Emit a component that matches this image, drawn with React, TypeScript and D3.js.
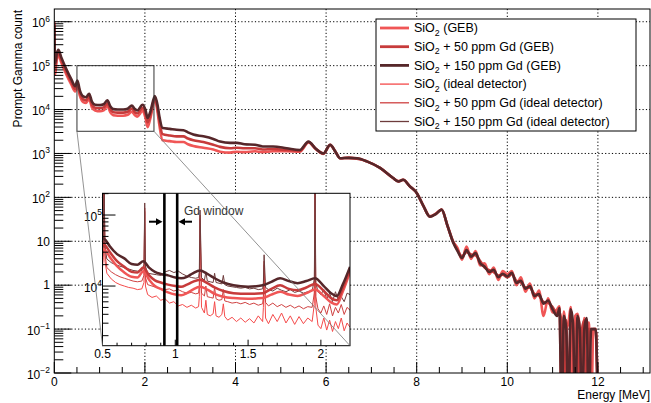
import React from 'react';
import * as d3 from 'd3';

const W = 651;
const H = 403;
const FONT = '"Liberation Sans", Arial, Helvetica, sans-serif';

// main spectrum: energy [MeV], counts stored as log10 (null = empty bin)
const mainEnergy = [
  0.00, 0.02, 0.05, 0.09, 0.15, 0.27, 0.38, 0.46, 0.51, 0.56,
  0.64, 0.70, 0.77, 0.83, 0.90, 1.01, 1.09, 1.17, 1.24, 1.30,
  1.40, 1.52, 1.62, 1.71, 1.78, 1.83, 1.95, 2.01, 2.06, 2.12,
  2.22, 2.28, 2.32, 2.39, 2.55, 2.70, 2.85, 2.95, 3.07, 3.29,
  3.51, 3.66, 3.88, 4.03, 4.20, 4.43, 4.60, 4.83, 5.13, 5.42,
  5.61, 5.78, 5.94, 6.09, 6.20, 6.31, 6.50, 6.68, 6.90, 7.19,
  7.48, 7.60, 7.70, 7.85, 8.00, 8.15, 8.29, 8.42, 8.55, 8.68,
  8.81, 8.90, 9.00, 9.10, 9.20, 9.30, 9.40, 9.50, 9.60, 9.70,
  9.80, 9.90, 10.0, 10.1, 10.2, 10.3, 10.4, 10.5, 10.6, 10.7,
  10.8, 10.9, 11.0, 11.1, 11.15, 11.2, 11.25, 11.3, 11.35, 11.4,
  11.45, 11.5, 11.55, 11.6, 11.65, 11.7, 11.75, 11.8, 11.85, 11.9,
  11.95, 12.0,
];
const gebSiO2 = [
  6.00, 4.80, 5.10, 5.24, 5.08, 4.79, 4.56, 4.41, 4.55, 4.33,
  4.17, 4.15, 4.24, 4.05, 3.98, 3.96, 3.98, 4.08, 3.93, 3.87,
  3.86, 3.86, 3.88, 3.95, 3.87, 3.84, 3.97, 3.82, 3.60, 3.80,
  4.23, 3.94, 3.64, 3.30, 3.28, 3.26, 3.26, 3.21, 3.17, 3.13,
  3.09, 3.04, 3.02, 3.04, 3.03, 3.05, 3.03, 3.05, 3.05, 3.04,
  3.25, 3.09, 2.99, 3.20, 3.05, 2.89, 2.90, 2.89, 2.82, 2.67,
  2.44, 2.37, 2.40, 2.25, 2.10, 1.80, 1.56, 1.63, 1.72, 1.34,
  0.98, 0.85, 0.58, 0.88, 0.60, 0.78, 0.45, 0.50, 0.25, 0.40,
  0.12, 0.32, 0.25, 0.32, 0.00, 0.18, -0.15, 0.04, -0.30, -0.12,
  -0.70, -0.30, -0.62, -0.55, -0.48, null, -0.60, -1.0, -0.85, -0.50,
  null, -0.70, -0.65, -1.0, null, -0.75, -1.0, -0.85, null, -1.0,
  -1.0, null,
];
const geb50 = [
  5.95, 4.95, 5.18, 5.30, 5.14, 4.85, 4.62, 4.47, 4.61, 4.39,
  4.23, 4.21, 4.30, 4.11, 4.04, 4.03, 4.05, 4.14, 4.00, 3.94,
  3.93, 3.93, 3.95, 4.02, 3.94, 3.91, 4.04, 3.91, 3.71, 3.87,
  4.27, 4.02, 3.74, 3.44, 3.41, 3.39, 3.39, 3.34, 3.30, 3.26,
  3.20, 3.15, 3.12, 3.13, 3.12, 3.12, 3.09, 3.10, 3.08, 3.06,
  3.26, 3.10, 3.00, 3.19, 3.05, 2.89, 2.90, 2.88, 2.82, 2.67,
  2.44, 2.36, 2.40, 2.25, 2.10, 1.80, 1.57, 1.62, 1.72, 1.36,
  0.97, 0.80, 0.66, 0.75, 0.70, 0.68, 0.55, 0.40, 0.34, 0.30,
  0.22, 0.24, 0.18, 0.25, 0.10, 0.06, -0.05, -0.06, -0.20, -0.24,
  -0.38, -0.40, -0.50, -0.65, -0.60, -0.90, null, -0.80, null, -0.70,
  -1.0, null, -0.75, null, -1.0, -0.80, null, -1.0, -1.0, -1.0,
  -1.0, null,
];
const geb150 = [
  5.90, 5.05, 5.25, 5.36, 5.20, 4.91, 4.68, 4.53, 4.66, 4.45,
  4.30, 4.28, 4.36, 4.18, 4.11, 4.10, 4.12, 4.21, 4.07, 4.01,
  4.00, 4.00, 4.02, 4.09, 4.01, 3.98, 4.11, 4.00, 3.81, 3.95,
  4.31, 4.10, 3.84, 3.58, 3.56, 3.54, 3.53, 3.48, 3.43, 3.39,
  3.33, 3.27, 3.24, 3.24, 3.21, 3.20, 3.16, 3.16, 3.12, 3.08,
  3.27, 3.10, 3.00, 3.20, 3.05, 2.89, 2.90, 2.89, 2.82, 2.67,
  2.44, 2.36, 2.40, 2.25, 2.10, 1.80, 1.56, 1.62, 1.72, 1.35,
  0.96, 0.78, 0.62, 0.80, 0.65, 0.73, 0.50, 0.42, 0.30, 0.35,
  0.18, 0.26, 0.20, 0.28, 0.05, 0.10, -0.08, -0.02, -0.25, -0.20,
  -0.42, -0.35, -0.55, -0.70, -0.52, null, -0.70, -1.0, null, -0.55,
  -0.85, null, -0.70, -1.0, null, -1.0, -0.75, null, -1.0, -1.0,
  -1.0, null,
];

// inset, GEB (smeared) spectra
const insetEnergy = [
  0.50, 0.52, 0.55, 0.60, 0.65, 0.70, 0.74, 0.78, 0.82, 0.86,
  0.90, 0.95, 1.00, 1.04, 1.08, 1.12, 1.17, 1.22, 1.27, 1.33,
  1.40, 1.50, 1.60, 1.66, 1.72, 1.78, 1.84, 1.90, 1.96, 2.02,
  2.07, 2.11, 2.15, 2.20,
];
const insetGebSiO2 = [
  4.53, 4.50, 4.41, 4.28, 4.19, 4.13, 4.12, 4.21, 4.09, 4.00,
  3.96, 3.91, 3.88, 3.87, 3.90, 3.95, 3.99, 3.95, 3.89, 3.85,
  3.83, 3.82, 3.83, 3.88, 3.92, 3.88, 3.86, 3.90, 3.95, 3.86,
  3.77, 3.74, 3.92, 4.20,
];
const insetGeb50 = [
  4.60, 4.57, 4.48, 4.35, 4.27, 4.20, 4.19, 4.26, 4.15, 4.08,
  4.05, 4.02, 4.00, 3.99, 4.02, 4.06, 4.09, 4.04, 3.98, 3.93,
  3.90, 3.89, 3.90, 3.96, 4.01, 3.96, 3.94, 3.98, 4.03, 3.93,
  3.83, 3.80, 3.97, 4.24,
];
const insetGeb150 = [
  4.68, 4.65, 4.56, 4.45, 4.39, 4.31, 4.30, 4.35, 4.26, 4.20,
  4.17, 4.15, 4.12, 4.11, 4.13, 4.18, 4.22, 4.17, 4.11, 4.05,
  4.01, 3.99, 4.01, 4.06, 4.11, 4.07, 4.04, 4.07, 4.11, 4.00,
  3.90, 3.86, 4.02, 4.27,
];

// inset, ideal detector spectra (sharp lines)
const idealEnergy = [
  0.50, 0.505, 0.511, 0.517, 0.53, 0.56, 0.59, 0.62, 0.65, 0.68,
  0.71, 0.74, 0.77, 0.785, 0.79, 0.795, 0.81, 0.84, 0.87, 0.90,
  0.93, 0.96, 0.99, 1.02, 1.05, 1.08, 1.11, 1.14, 1.16, 1.165,
  1.17, 1.18, 1.20, 1.21, 1.22, 1.24, 1.26, 1.27, 1.28, 1.30,
  1.32, 1.33, 1.34, 1.36, 1.39, 1.42, 1.45, 1.48, 1.51, 1.54,
  1.57, 1.60, 1.605, 1.61, 1.62, 1.64, 1.67, 1.70, 1.73, 1.76,
  1.79, 1.82, 1.85, 1.88, 1.91, 1.94, 1.955, 1.96, 1.965, 1.98,
  2.00, 2.02, 2.04, 2.06, 2.08, 2.10, 2.12, 2.14, 2.16, 2.18,
  2.20,
];
const idealSiO2 = [
  4.25, 4.40, 5.40, 4.35, 4.18, 4.10, 4.05, 4.02, 4.00, 3.98,
  3.97, 3.95, 3.96, 4.05, 5.05, 4.00, 3.88, 3.84, 3.86, 3.80,
  3.82, 3.76, 3.78, 3.72, 3.74, 3.70, 3.73, 3.69, 3.71, 3.85,
  4.95, 3.70, 3.62, 3.80, 3.60, 3.58, 3.61, 3.78, 3.58, 3.56,
  3.60, 3.75, 3.57, 3.52, 3.56, 3.50, 3.55, 3.49, 3.54, 3.48,
  3.58, 3.50, 3.70, 4.30, 3.55, 3.47, 3.60, 3.50, 3.62, 3.48,
  3.58, 3.46, 3.57, 3.47, 3.55, 3.50, 3.75, 5.35, 3.70, 3.45,
  3.40, 3.55, 3.38, 3.52, 3.36, 3.50, 3.40, 3.55, 3.37, 3.48,
  3.42,
];
const ideal50 = [
  4.32, 4.50, 5.45, 4.45, 4.26, 4.20, 4.16, 4.13, 4.11, 4.09,
  4.07, 4.06, 4.07, 4.15, 5.10, 4.12, 4.02, 4.00, 3.98, 3.96,
  3.95, 3.96, 3.93, 3.95, 3.92, 3.90, 3.91, 3.89, 3.90, 4.00,
  5.00, 3.90, 3.86, 4.00, 3.85, 3.84, 3.83, 3.98, 3.82, 3.80,
  3.81, 3.95, 3.79, 3.78, 3.76, 3.77, 3.75, 3.77, 3.74, 3.76,
  3.73, 3.75, 3.85, 4.35, 3.77, 3.72, 3.76, 3.71, 3.74, 3.70,
  3.73, 3.69, 3.72, 3.68, 3.71, 3.70, 3.90, 5.40, 3.85, 3.68,
  3.62, 3.72, 3.60, 3.75, 3.58, 3.70, 3.62, 3.74, 3.60, 3.70,
  3.66,
];
const ideal150 = [
  4.42, 4.60, 5.50, 4.55, 4.38, 4.33, 4.30, 4.28, 4.26, 4.24,
  4.22, 4.21, 4.22, 4.30, 5.17, 4.28, 4.18, 4.17, 4.16, 4.15,
  4.20, 4.22, 4.19, 4.21, 4.17, 4.14, 4.12, 4.11, 4.12, 4.20,
  5.07, 4.12, 4.08, 4.20, 4.07, 4.06, 4.05, 4.18, 4.05, 4.04,
  4.03, 4.15, 4.02, 4.00, 3.99, 3.98, 3.97, 3.98, 3.96, 3.97,
  3.95, 3.96, 4.05, 4.44, 3.98, 3.95, 3.93, 3.97, 3.94, 3.92,
  3.95, 3.91, 3.93, 3.90, 3.92, 3.93, 4.10, 5.50, 4.05, 3.92,
  3.88, 3.95, 3.82, 3.90, 3.78, 3.92, 3.80, 3.85, 3.78, 3.90,
  3.88,
];

const gdWindow = [0.925, 1.013];
const zoomEnergy = [0.5, 2.2];
const zoomCounts = [3200, 1e5];

const legendSuffix = [
  ' (GEB)',
  ' + 50 ppm Gd (GEB)',
  ' + 150 ppm Gd (GEB)',
  ' (ideal detector)',
  ' + 50 ppm Gd (ideal detector)',
  ' + 150 ppm Gd (ideal detector)',
];
const xTicks = [0, 2, 4, 6, 8, 10, 12];
const yDecades = [-2, -1, 0, 1, 2, 3, 4, 5, 6];
const insetXTicks = [0.5, 1, 1.5, 2];
const insetDecades = [4, 5];

const styles = [
  { color: '#f05656', width: 2.6 },
  { color: '#c73b3b', width: 2.6 },
  { color: '#56272a', width: 2.6 },
  { color: '#f44a4a', width: 1 },
  { color: '#cf4242', width: 1 },
  { color: '#6e3c3c', width: 1 },
];

const sup = (e: number) => (e < 0 ? '\u2212' + -e : String(e));

export default function App() {
  const x = d3.scaleLinear().domain([0, 13.15]).range([54.3, 650]);
  const y = d3.scaleLog().domain([1e-2, 10 ** 6.29]).range([373, 9]);
  const ix = d3.scaleLinear().domain([0.5, 2.2]).range([102.5, 350]);
  const iy = d3.scaleLog().domain([10 ** 3.16, 10 ** 5.306]).range([345.7, 193.3]);

  const [fx0, fx1] = x.range();
  const [fy1, fy0] = y.range();
  const [ix0, ix1] = ix.range();
  const [iy1, iy0] = iy.range();

  const pts = (es: number[], vs: (number | null)[]) =>
    es.map((e, i) => [e, vs[i] == null ? 1e-3 : 10 ** (vs[i] as number)] as [number, number]);

  const mainLine = d3.line<[number, number]>().x(d => x(d[0])).y(d => y(d[1])).curve(d3.curveMonotoneX);
  const insetSmooth = d3.line<[number, number]>().x(d => ix(d[0])).y(d => iy(d[1])).curve(d3.curveMonotoneX);
  const insetSharp = d3.line<[number, number]>().x(d => ix(d[0])).y(d => iy(d[1]));

  const mainSeries = [gebSiO2, geb50, geb150];
  const insetGeb = [insetGebSiO2, insetGeb50, insetGeb150];
  const insetIdeal = [idealSiO2, ideal50, ideal150];

  const yMinor: number[] = [];
  yDecades.forEach(d => {
    for (let k = 2; k <= 9; k++) {
      const v = k * 10 ** d;
      if (v < y.domain()[1]) yMinor.push(v);
    }
  });
  const xMinor = d3.range(0.5, 13.1, 0.5).filter(v => v % 2 !== 0);

  const iyMinor: number[] = [];
  [3, 4, 5].forEach(d => {
    for (let k = 2; k <= 9; k++) {
      const v = k * 10 ** d;
      if (v > iy.domain()[0] && v < iy.domain()[1]) iyMinor.push(v);
    }
  });
  const ixMinor = d3.range(0.6, 2.2, 0.1).filter(v => Math.abs(v * 2 - Math.round(v * 2)) > 0.01);

  // zoom rectangle on the main plot
  const zx0 = x(zoomEnergy[0]), zx1 = x(zoomEnergy[1]);
  const zy0 = y(zoomCounts[1]), zy1 = y(zoomCounts[0]);

  const legX = 376, legY = 19, legW = 260, legH = 112;
  const rowY = (i: number) => 28 + i * 18.7;

  return (
    <svg width={W} height={H} style={{ position: 'absolute', left: 0, top: 0, background: '#fff' }}
      fontFamily={FONT} fontSize={12}>
      <defs>
        <clipPath id="mainClip"><rect x={fx0} y={fy0} width={fx1 - fx0} height={fy1 - fy0} /></clipPath>
        <clipPath id="insetClip"><rect x={ix0} y={iy0} width={ix1 - ix0} height={iy1 - iy0} /></clipPath>
      </defs>
      <rect x={0} y={0} width={W} height={H} fill="#fff" />

      {/* grid */}
      <g stroke="#000" strokeWidth={1} strokeDasharray="1.2,2.2">
        {xTicks.slice(1).map(t => <line key={'gx' + t} x1={x(t)} x2={x(t)} y1={fy0} y2={fy1} />)}
        {yDecades.slice(1).map(d => <line key={'gy' + d} x1={fx0} x2={fx1} y1={y(10 ** d)} y2={y(10 ** d)} />)}
      </g>

      {/* main spectra */}
      <g clipPath="url(#mainClip)" fill="none" strokeLinejoin="round">
        {mainSeries.map((s, i) => (
          <path key={'m' + i} d={mainLine(pts(mainEnergy, s)) || ''} stroke={styles[i].color}
            strokeWidth={styles[i].width} />
        ))}
      </g>

      {/* zoom box */}
      <rect x={zx0} y={zy0} width={zx1 - zx0} height={zy1 - zy0} fill="none" stroke="#333" strokeWidth={1} />

      {/* frame + ticks */}
      <rect x={fx0} y={fy0} width={fx1 - fx0} height={fy1 - fy0} fill="none" stroke="#000" strokeWidth={1} />
      <g stroke="#000" strokeWidth={1}>
        {yDecades.map(d => <line key={'ty' + d} x1={fx0} x2={fx0 + 17} y1={y(10 ** d)} y2={y(10 ** d)} />)}
        {yMinor.map(v => <line key={'tym' + v} x1={fx0} x2={fx0 + 9} y1={y(v)} y2={y(v)} />)}
        {xTicks.map(t => <line key={'tx' + t} x1={x(t)} x2={x(t)} y1={fy1} y2={fy1 - 11} />)}
        {xMinor.map(t => <line key={'txm' + t} x1={x(t)} x2={x(t)} y1={fy1} y2={fy1 - 6} />)}
      </g>

      {/* tick labels */}
      <g fill="#000">
        {xTicks.map(t => <text key={'lx' + t} x={x(t)} y={386} textAnchor="middle">{t}</text>)}
        {yDecades.map(d => {
          const py = y(10 ** d);
          if (d === 0 || d === 1) {
            return <text key={'ly' + d} x={50} y={py + 4.3} textAnchor="end">{d === 0 ? '1' : '10'}</text>;
          }
          return (
            <text key={'ly' + d} x={50} y={py + 5.5} textAnchor="end">
              <tspan>10</tspan><tspan dy={-5.5} fontSize={8.5}>{sup(d)}</tspan>
            </text>
          );
        })}
      </g>

      {/* axis titles */}
      <text x={650} y={399} textAnchor="end">Energy [MeV]</text>
      <text transform="translate(22,10) rotate(-90)" textAnchor="end">Prompt Gamma count</text>

      {/* legend */}
      <rect x={legX} y={legY} width={legW} height={legH} fill="#fff" stroke="#000" strokeWidth={1} />
      {legendSuffix.map((s, i) => (
        <g key={'leg' + i}>
          <line x1={380} x2={409} y1={rowY(i)} y2={rowY(i)} stroke={styles[i].color}
            strokeWidth={styles[i].width === 1 ? 1.3 : 2.8} />
          <text x={414} y={rowY(i) + 4.2} fontSize={12.5}>
            <tspan>SiO</tspan>
            <tspan dy={3.5} fontSize={8.8}>2</tspan>
            <tspan dy={-3.5} fontSize={12.5}>{s}</tspan>
          </text>
        </g>
      ))}

      {/* inset */}
      <rect x={ix0} y={iy0} width={ix1 - ix0} height={iy1 - iy0} fill="#fff" />
      <g clipPath="url(#insetClip)" fill="none" strokeLinejoin="round">
        {insetIdeal.map((s, i) => (
          <path key={'ii' + i} d={insetSharp(pts(idealEnergy, s)) || ''} stroke={styles[i + 3].color}
            strokeWidth={1} />
        ))}
        {insetGeb.map((s, i) => (
          <path key={'ig' + i} d={insetSmooth(pts(insetEnergy, s)) || ''} stroke={styles[i].color}
            strokeWidth={2.5} />
        ))}
      </g>
      {gdWindow.map(e => (
        <line key={'gd' + e} x1={ix(e)} x2={ix(e)} y1={iy0} y2={iy1} stroke="#000" strokeWidth={2.6} />
      ))}
      <rect x={ix0} y={iy0} width={ix1 - ix0} height={iy1 - iy0} fill="none" stroke="#000" strokeWidth={1} />
      <g stroke="#000" strokeWidth={1}>
        {insetDecades.map(d => <line key={'iy' + d} x1={ix0} x2={ix0 + 13} y1={iy(10 ** d)} y2={iy(10 ** d)} />)}
        {iyMinor.map(v => <line key={'iym' + v} x1={ix0} x2={ix0 + 6} y1={iy(v)} y2={iy(v)} />)}
        {insetXTicks.map(t => <line key={'ix' + t} x1={ix(t)} x2={ix(t)} y1={iy1} y2={iy1 - 6} />)}
        {ixMinor.map(t => <line key={'ixm' + t} x1={ix(t)} x2={ix(t)} y1={iy1} y2={iy1 - 3} />)}
      </g>
      {insetXTicks.map(t => <text key={'ilx' + t} x={ix(t)} y={358} textAnchor="middle">{t}</text>)}
      {insetDecades.map(d => (
        <text key={'ily' + d} x={102} y={iy(10 ** d) + 5.5} textAnchor="end">
          <tspan>10</tspan><tspan dy={-5.5} fontSize={8.5}>{d}</tspan>
        </text>
      ))}

      {/* Gd window arrows and label */}
      <g stroke="#000" strokeWidth={2} fill="#000">
        <line x1={149} x2={157} y1={221.7} y2={221.7} />
        <path d="M 162.5 221.7 L 156 218.2 L 156 225.2 Z" stroke="none" />
        <line x1={192} x2={184} y1={221.7} y2={221.7} />
        <path d="M 178.5 221.7 L 185 218.2 L 185 225.2 Z" stroke="none" />
      </g>
      <text x={184} y={215} fill="#333">Gd window</text>

      {/* connector lines */}
      <g stroke="#777" strokeWidth={0.8}>
        <line x1={zx0} y1={zy1} x2={ix0} y2={iy1} />
        <line x1={zx1} y1={zy1} x2={ix1} y2={iy1} />
      </g>
    </svg>
  );
}
